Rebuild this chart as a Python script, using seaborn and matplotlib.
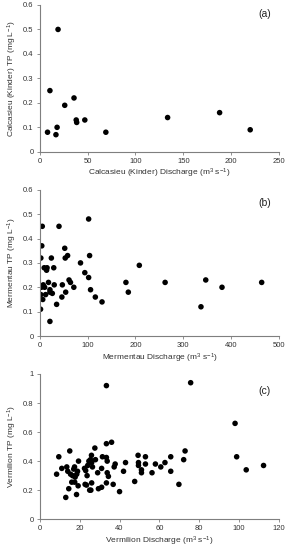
import matplotlib

matplotlib.use("Agg")

import matplotlib.pyplot as plt
import numpy as np
import pandas as pd
import seaborn as sns
from matplotlib.ticker import FuncFormatter, MultipleLocator

# --- data ---
calc_q = [8, 10.5, 16.8, 18, 19, 26, 35.7, 38, 38.5, 47, 69, 133.6, 188, 220]
calc_tp = [0.08, 0.25, 0.07, 0.10, 0.50, 0.19, 0.22, 0.13, 0.12, 0.13, 0.08, 0.14, 0.16, 0.09]

merm_q = [1.4, 2, 3, 2, 4, 5, 6, 7, 9, 12, 10, 14, 15, 18, 21, 21, 21, 24, 26, 29,
          30, 35, 40, 47, 46, 52, 53, 54, 58, 61, 64, 71, 85, 94, 102, 102, 104, 106,
          116, 130, 180, 185, 208, 262, 337, 347, 381, 464]
merm_tp = [0.11, 0.17, 0.20, 0.32, 0.37, 0.45, 0.15, 0.21, 0.28, 0.17, 0.20, 0.27,
           0.28, 0.22, 0.18, 0.06, 0.19, 0.32, 0.175, 0.28, 0.21, 0.13, 0.45, 0.21,
           0.16, 0.36, 0.32, 0.18, 0.33, 0.23, 0.22, 0.20, 0.30, 0.26, 0.48, 0.24,
           0.33, 0.19, 0.16, 0.14, 0.22, 0.18, 0.29, 0.22, 0.12, 0.23, 0.20, 0.22]

verm_q = [8.4, 9.5, 11, 13, 13.5, 14, 14.5, 15, 15.4, 16, 16.4, 17, 17.4, 17.5, 17.7,
          18.4, 18.5, 18.9, 19.2, 19.4, 22.4, 22.7, 23, 23.4, 23.7, 24, 24.6, 25,
          25.4, 25.6, 25.9, 26, 26.4, 26, 27.6, 27.9, 29, 29.4, 31, 31, 31.4, 33.4,
          33.4, 33.4, 33.4, 33.8, 33.8, 34.4, 36, 36.8, 37.3, 37.8, 40, 42, 43, 47.6,
          49.3, 49.5, 49.5, 51, 51, 53, 53, 56.3, 58, 60.7, 62.8, 65.7, 65.7, 69.8,
          72.2, 72.9, 75.7, 98, 98.8, 103.6, 112.3]
verm_tp = [0.31, 0.43, 0.35, 0.15, 0.36, 0.33, 0.21, 0.47, 0.31, 0.255, 0.30, 0.345,
           0.36, 0.255, 0.29, 0.17, 0.31, 0.33, 0.23, 0.40, 0.35, 0.24, 0.335, 0.235,
           0.30, 0.37, 0.40, 0.20, 0.41, 0.20, 0.44, 0.25, 0.36, 0.39, 0.49, 0.41,
           0.32, 0.21, 0.22, 0.35, 0.43, 0.92, 0.425, 0.52, 0.25, 0.40, 0.32, 0.295,
           0.53, 0.24, 0.36, 0.38, 0.19, 0.33, 0.39, 0.26, 0.44, 0.39, 0.37, 0.34,
           0.32, 0.43, 0.38, 0.32, 0.38, 0.36, 0.39, 0.43, 0.33, 0.24, 0.41, 0.47,
           0.94, 0.66, 0.43, 0.34, 0.37]

panels = [
    ("Calcasieu (Kinder)", calc_q, calc_tp, "(a)", (0, 250, 50), (0, 0.6, 0.1), 0.94),
    ("Mermentau", merm_q, merm_tp, "(b)", (0, 500, 100), (0, 0.6, 0.1), 0.91),
    ("Vermilion", verm_q, verm_tp, "(c)", (0, 120, 20), (0, 1.0, 0.2), 0.88),
]

sns.set_theme(style="ticks")
plt.rcParams["font.family"] = ["Liberation Sans", "DejaVu Sans"]
plt.rcParams["mathtext.fontset"] = "custom"
plt.rcParams["mathtext.rm"] = "Liberation Sans"
plt.rcParams["mathtext.it"] = "Liberation Sans"

fig = plt.figure(figsize=(2.89, 5.5), dpi=100)
boxes = [(0.991, 0.724), (0.655, 0.389), (0.320, 0.056)]
left, right = 0.138, 0.965
grey = "#7f7f7f"

for (name, q, tp, tag, xl, yl, tag_y), (top, bottom) in zip(panels, boxes):
    ax = fig.add_axes([left, bottom, right - left, top - bottom])
    df = pd.DataFrame({"q": q, "tp": tp})
    sns.scatterplot(data=df, x="q", y="tp", ax=ax, color="black", s=16,
                    edgecolor="none", linewidth=0)
    ax.set_xlim(xl[0], xl[1])
    ax.set_ylim(yl[0], yl[1])
    ax.xaxis.set_major_locator(MultipleLocator(xl[2]))
    ax.yaxis.set_major_locator(MultipleLocator(yl[2]))
    ax.yaxis.set_major_formatter(FuncFormatter(lambda v, p: f"{v:g}"))
    sns.despine(ax=ax)
    for s in ("left", "bottom"):
        ax.spines[s].set_color(grey)
        ax.spines[s].set_linewidth(0.8)
    ax.tick_params(labelsize=5.5, length=2.5, width=0.6, color=grey,
                   labelcolor="#333333", pad=2)
    ax.set_xlabel(f"{name} Discharge (m$^3$ s$^{{-1}}$)", fontsize=6, color="#333333",
                  labelpad=1.5)
    ax.set_ylabel(f"{name} TP (mg L$^{{-1}}$)", fontsize=6, color="#333333", labelpad=3)
    ax.text(0.94, tag_y, tag, transform=ax.transAxes, fontsize=7.5, ha="center",
            va="center", color="#222222")

fig.savefig("out.png", dpi=100)
